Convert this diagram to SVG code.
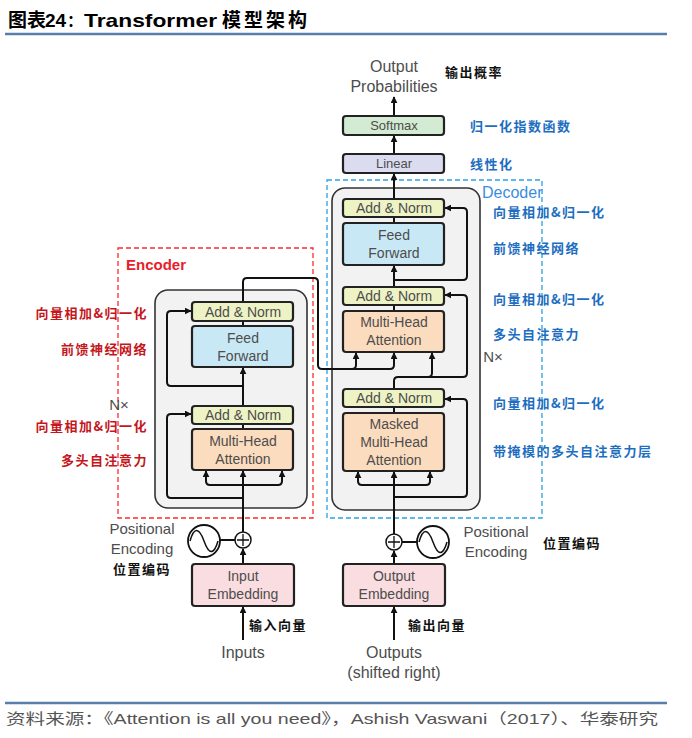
<svg xmlns="http://www.w3.org/2000/svg" width="692" height="738" viewBox="0 0 692 738">
<defs>
<marker id="ah" viewBox="0 0 10 10" refX="9" refY="5" markerWidth="7" markerHeight="7" markerUnits="userSpaceOnUse" orient="auto">
<path d="M0,0 L10,5 L0,10 Z" fill="#111"/>
</marker>
<style>
.en{font-family:"Liberation Sans",Arial,sans-serif;fill:#4d4d4d;text-anchor:middle}
.box{stroke:#222;stroke-width:2.2}
.an{fill:#eef3c6}
.ff{fill:#c9e8f6}
.mh{fill:#fcdcbf}
.emb{fill:#f9dde0}
.blk{fill:#f2f2f2;stroke:#333;stroke-width:1.6}
.ln{fill:none;stroke:#111;stroke-width:2}
.lab{font-family:"Noto Sans CJK SC","Noto Sans",sans-serif;font-size:13px;font-weight:bold;letter-spacing:1.5px}
.red{fill:#c4161c}
.blue{fill:#1d6ec0}
.blk2{fill:#111}
.cjk{font-family:"Noto Sans CJK SC",sans-serif}
.lat{font-family:"Liberation Sans",Arial,sans-serif}
</style>
</defs>
<rect width="692" height="738" fill="#fff"/>

<g id="title">
<text y="27" font-size="19" font-weight="bold" fill="#000" class="cjk"><tspan x="8">图表</tspan><tspan x="45" class="lat">24</tspan><tspan x="67" font-size="16">：</tspan><tspan x="84" class="lat" textLength="133" lengthAdjust="spacingAndGlyphs">Transformer</tspan><tspan x="222" letter-spacing="3">模型架构</tspan></text>
<line x1="5" y1="34" x2="667" y2="34" stroke="#5a7eab" stroke-width="2.5"/>
</g>

<g id="encoder-frame">
<rect x="118" y="248" width="195" height="270" fill="none" stroke="#ff2a2a" stroke-width="1.3" stroke-dasharray="5,3"/>
<text x="126" y="270" font-family="Liberation Sans,Arial,sans-serif" font-size="15" font-weight="bold" fill="#e8202a">Encoder</text>
<rect class="blk" x="155" y="290" width="152" height="218" rx="13"/>
</g>
<g id="decoder-frame">
<rect x="327" y="180" width="215" height="338" fill="none" stroke="#2aa0e8" stroke-width="1.3" stroke-dasharray="5,3"/>
<text x="482" y="198" font-family="Liberation Sans,Arial,sans-serif" font-size="16" fill="#3a8ee0">Decoder</text>
<rect class="blk" x="332" y="188" width="148" height="322" rx="13"/>
</g>

<g id="connectors">
<path class="ln" d="M243,640 V607" marker-end="url(#ah)"/>
<path class="ln" d="M243,564 V549" marker-end="url(#ah)"/>
<path class="ln" d="M220,540 H235"/>
<path class="ln" d="M243,532 V471" marker-end="url(#ah)"/>
<path class="ln" d="M243,485 H210 Q206,485 206,481 V471" marker-end="url(#ah)"/>
<path class="ln" d="M243,485 H278 Q282,485 282,481 V471" marker-end="url(#ah)"/>
<path class="ln" d="M243,498 H171 Q167,498 167,494 V418 Q167,414 171,414 H191" marker-end="url(#ah)"/>
<path class="ln" d="M243,429 V424"/>
<path class="ln" d="M243,406 V368" marker-end="url(#ah)"/>
<path class="ln" d="M243,386 H171 Q167,386 167,382 V315 Q167,311 171,311 H191" marker-end="url(#ah)"/>
<path class="ln" d="M243,326 V321"/>
<path class="ln" d="M243,302 V282 Q243,278 247,278 H314 Q318,278 318,282 V365 Q318,369 322,369 H390 Q394,369 394,365 V353" marker-end="url(#ah)"/>
<path class="ln" d="M352,369 Q356,369 356,365 V353" marker-end="url(#ah)"/>
<path class="ln" d="M394,640 V607" marker-end="url(#ah)"/>
<path class="ln" d="M394,564 V551" marker-end="url(#ah)"/>
<path class="ln" d="M402,542 H417"/>
<path class="ln" d="M394,534 V472" marker-end="url(#ah)"/>
<path class="ln" d="M394,485 H362 Q358,485 358,481 V472" marker-end="url(#ah)"/>
<path class="ln" d="M394,485 H426 Q430,485 430,481 V472" marker-end="url(#ah)"/>
<path class="ln" d="M394,497 H463 Q467,497 467,493 V403 Q467,399 463,399 H445" marker-end="url(#ah)"/>
<path class="ln" d="M394,413 V407"/>
<path class="ln" d="M394,389 V381 Q394,377 398,377 H463 Q467,377 467,373 V299 Q467,295 463,295 H445" marker-end="url(#ah)"/>
<path class="ln" d="M428,377 Q432,377 432,373 V353" marker-end="url(#ah)"/>
<path class="ln" d="M394,311 V305"/>
<path class="ln" d="M394,287 V266" marker-end="url(#ah)"/>
<path class="ln" d="M394,280 H463 Q467,280 467,276 V212 Q467,208 463,208 H445" marker-end="url(#ah)"/>
<path class="ln" d="M394,223 V217"/>
<path class="ln" d="M394,199 V174" marker-end="url(#ah)"/>
<path class="ln" d="M394,154 V136" marker-end="url(#ah)"/>
<path class="ln" d="M394,116 V97" marker-end="url(#ah)"/>
</g>

<g id="enc-addnorm2"><rect class="box an" x="192" y="302" width="101" height="19" rx="3"/><text class="en" x="243" y="317" font-size="14">Add &amp; Norm</text></g>
<g id="enc-ff"><rect class="box ff" x="192" y="326" width="101" height="41" rx="3"/><text class="en" x="243" y="343" font-size="14">Feed</text><text class="en" x="243" y="361" font-size="14">Forward</text></g>
<g id="enc-addnorm1"><rect class="box an" x="192" y="406" width="101" height="18" rx="3"/><text class="en" x="243" y="420" font-size="14">Add &amp; Norm</text></g>
<g id="enc-mha"><rect class="box mh" x="192" y="429" width="101" height="41" rx="3"/><text class="en" x="243" y="446" font-size="14">Multi-Head</text><text class="en" x="243" y="464" font-size="14">Attention</text></g>

<g id="dec-addnorm3"><rect class="box an" x="343" y="199" width="101" height="18" rx="3"/><text class="en" x="394" y="213" font-size="14">Add &amp; Norm</text></g>
<g id="dec-ff"><rect class="box ff" x="343" y="223" width="101" height="42" rx="3"/><text class="en" x="394" y="240" font-size="14">Feed</text><text class="en" x="394" y="258" font-size="14">Forward</text></g>
<g id="dec-addnorm2"><rect class="box an" x="343" y="287" width="101" height="18" rx="3"/><text class="en" x="394" y="301" font-size="14">Add &amp; Norm</text></g>
<g id="dec-mha"><rect class="box mh" x="343" y="311" width="101" height="41" rx="3"/><text class="en" x="394" y="327" font-size="14">Multi-Head</text><text class="en" x="394" y="345" font-size="14">Attention</text></g>
<g id="dec-addnorm1"><rect class="box an" x="343" y="389" width="101" height="18" rx="3"/><text class="en" x="394" y="403" font-size="14">Add &amp; Norm</text></g>
<g id="dec-masked"><rect class="box mh" x="343" y="413" width="101" height="58" rx="3"/><text class="en" x="394" y="429" font-size="14">Masked</text><text class="en" x="394" y="447" font-size="14">Multi-Head</text><text class="en" x="394" y="465" font-size="14">Attention</text></g>

<g id="linear"><rect class="box" fill="#dcdcf0" x="343" y="154" width="101" height="19" rx="3"/><text class="en" x="394" y="168" font-size="13">Linear</text></g>
<g id="softmax"><rect class="box" fill="#d3ead3" x="343" y="116" width="101" height="19" rx="3"/><text class="en" x="394" y="130" font-size="13">Softmax</text></g>
<g id="out-prob"><text class="en" x="394" y="72" font-size="16">Output</text><text class="en" x="394" y="92" font-size="16">Probabilities</text></g>

<g id="enc-pe">
<circle cx="243" cy="540" r="8" fill="#fff" stroke="#111" stroke-width="1.5"/>
<path d="M237,540 H249 M243,534 V546" stroke="#111" stroke-width="1.3"/>
<circle cx="204" cy="541" r="16" fill="#fff" stroke="#111" stroke-width="1.8"/>
<path d="M190,541 C194,527 199,527 204,541 C209,555 214,555 218,541" fill="none" stroke="#111" stroke-width="1.5"/>
<text class="en" x="142" y="534" font-size="15">Positional</text>
<text class="en" x="142" y="554" font-size="15">Encoding</text>
</g>
<g id="enc-emb"><rect class="box emb" x="192" y="564" width="102" height="42" rx="3"/><text class="en" x="243" y="581" font-size="14">Input</text><text class="en" x="243" y="599" font-size="14">Embedding</text></g>
<text class="en" x="243" y="658" font-size="16">Inputs</text>

<g id="dec-pe">
<circle cx="394" cy="542" r="8" fill="#fff" stroke="#111" stroke-width="1.5"/>
<path d="M388,542 H400 M394,536 V548" stroke="#111" stroke-width="1.3"/>
<circle cx="433" cy="542" r="16" fill="#fff" stroke="#111" stroke-width="1.8"/>
<path d="M419,542 C423,528 428,528 433,542 C438,556 443,556 447,542" fill="none" stroke="#111" stroke-width="1.5"/>
<text class="en" x="496" y="537" font-size="15">Positional</text>
<text class="en" x="496" y="557" font-size="15">Encoding</text>
</g>
<g id="dec-emb"><rect class="box emb" x="343" y="564" width="102" height="42" rx="3"/><text class="en" x="394" y="581" font-size="14">Output</text><text class="en" x="394" y="599" font-size="14">Embedding</text></g>
<text class="en" x="394" y="658" font-size="16">Outputs</text>
<text class="en" x="394" y="678" font-size="16">(shifted right)</text>

<g id="labels-left" text-anchor="end">
<text class="lab red" x="148" y="318">向量相加&amp;归一化</text>
<text class="lab red" x="148" y="354">前馈神经网络</text>
<text class="lab red" x="148" y="431">向量相加&amp;归一化</text>
<text class="lab red" x="148" y="465">多头自注意力</text>
<text class="en" x="119" y="410" font-size="15" text-anchor="start">N×</text>
</g>
<g id="labels-right">
<text class="lab blk2" x="445" y="77">输出概率</text>
<text class="lab blue" x="470" y="131">归一化指数函数</text>
<text class="lab blue" x="470" y="169">线性化</text>
<text class="lab blue" x="493" y="217">向量相加&amp;归一化</text>
<text class="lab blue" x="493" y="253">前馈神经网络</text>
<text class="lab blue" x="493" y="304">向量相加&amp;归一化</text>
<text class="lab blue" x="493" y="339">多头自注意力</text>
<text class="en" x="493" y="362" font-size="15" text-anchor="start">N×</text>
<text class="lab blue" x="493" y="408">向量相加&amp;归一化</text>
<text class="lab blue" x="493" y="456">带掩模的多头自注意力层</text>
<text class="lab blk2" x="543" y="548">位置编码</text>
<text class="lab blk2" x="113" y="574">位置编码</text>
<text class="lab blk2" x="249" y="630">输入向量</text>
<text class="lab blk2" x="408" y="630">输出向量</text>
</g>

<g id="footer">
<line x1="5" y1="703" x2="667" y2="703" stroke="#5a7eab" stroke-width="2.5"/>
<text x="6" y="724" font-family="Liberation Sans,Noto Sans CJK SC,sans-serif" font-size="15" fill="#555" textLength="652" lengthAdjust="spacingAndGlyphs">资料来源：《Attention is all you need》，Ashish Vaswani（2017）、华泰研究</text>
</g>
</svg>
